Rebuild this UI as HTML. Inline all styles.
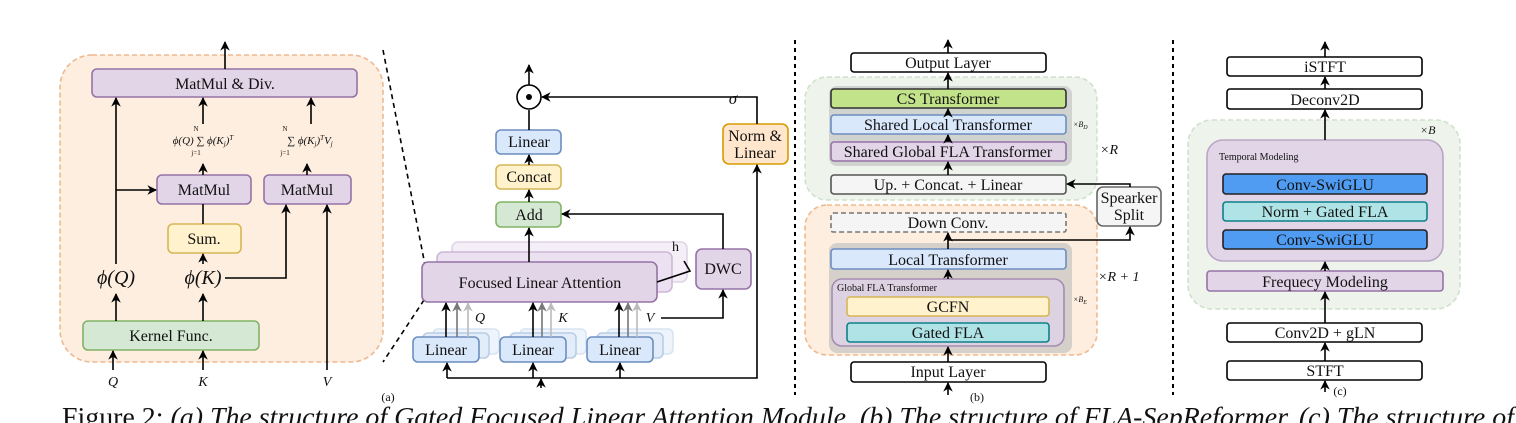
<!DOCTYPE html>
<html><head><meta charset="utf-8"><style>
html,body{margin:0;padding:0;background:#fff;}
svg{display:block;}
text{font-family:"Liberation Serif",serif;fill:#111;}
</style></head><body>
<svg width="1516" height="423" viewBox="0 0 1516 423" xmlns="http://www.w3.org/2000/svg">
<defs>
<marker id="a" viewBox="0 0 10 10" refX="9" refY="5" markerWidth="6" markerHeight="6" orient="auto"><path d="M0,0 L10,5 L0,10 L3,5z" fill="#000"/></marker>
<marker id="ag" viewBox="0 0 10 10" refX="9" refY="5" markerWidth="6" markerHeight="6" orient="auto"><path d="M0,0 L10,5 L0,10 L3,5z" fill="#777"/></marker>
<marker id="al" viewBox="0 0 10 10" refX="9" refY="5" markerWidth="6" markerHeight="6" orient="auto"><path d="M0,0 L10,5 L0,10 L3,5z" fill="#bbb"/></marker>
</defs>
<g stroke-width="1.6" fill="none" stroke="#000">
<rect x="60" y="55" width="323" height="307" rx="32" fill="#fdeee0" stroke="#eeb990" stroke-dasharray="5,3"/>
<rect x="92" y="69" width="265" height="28" rx="5" fill="#e1d5e7" stroke="#9673a6"/>
<rect x="157" y="175" width="94" height="29" rx="5" fill="#e1d5e7" stroke="#9673a6"/>
<rect x="264" y="175" width="87" height="29" rx="5" fill="#e1d5e7" stroke="#9673a6"/>
<rect x="168" y="224" width="73" height="29" rx="5" fill="#fff2cc" stroke="#d6b656"/>
<rect x="83" y="321" width="176" height="29" rx="5" fill="#d5e8d4" stroke="#82b366"/>
<line x1="225" y1="69" x2="225" y2="42" marker-end="url(#a)"/>
<line x1="116" y1="321" x2="116" y2="294" marker-end="url(#a)"/>
<line x1="116" y1="264" x2="116" y2="98" marker-end="url(#a)"/>
<line x1="116" y1="190" x2="156" y2="190" marker-end="url(#a)"/>
<line x1="203" y1="321" x2="203" y2="294" marker-end="url(#a)"/>
<line x1="203" y1="264" x2="203" y2="254" marker-end="url(#a)"/>
<line x1="203" y1="224" x2="203" y2="204"/>
<polyline points="225,278 286,278 286,205" marker-end="url(#a)"/>
<line x1="203" y1="175" x2="203" y2="164" marker-end="url(#a)"/>
<line x1="203" y1="124" x2="203" y2="98" marker-end="url(#a)"/>
<line x1="307" y1="175" x2="307" y2="164" marker-end="url(#a)"/>
<line x1="311" y1="124" x2="311" y2="98" marker-end="url(#a)"/>
<line x1="113" y1="370" x2="113" y2="351" marker-end="url(#a)"/>
<line x1="203" y1="370" x2="203" y2="351" marker-end="url(#a)"/>
<line x1="327" y1="370" x2="327" y2="205" marker-end="url(#a)"/>
<line x1="383" y1="50" x2="425" y2="265" stroke-dasharray="5,4"/>
<line x1="424" y1="300" x2="383" y2="362" stroke-dasharray="5,4"/>

<rect x="452" y="242" width="235" height="40" rx="6" fill="#f4eef7" stroke="#e0d4e8"/>
<rect x="437" y="252" width="235" height="40" rx="6" fill="#ebe1f0" stroke="#cdb8d6"/>
<rect x="422" y="262" width="235" height="40" rx="6" fill="#e1d5e7" stroke="#9673a6"/>
<polyline points="657,282 690,271 684,261"/>
<rect x="496" y="130" width="65" height="24" rx="5" fill="#dae8fc" stroke="#6c8ebf"/>
<rect x="496" y="165" width="65" height="24" rx="5" fill="#fff2cc" stroke="#d6b656"/>
<rect x="496" y="202" width="65" height="25" rx="5" fill="#d5e8d4" stroke="#82b366"/>
<rect x="696" y="249" width="55" height="40" rx="6" fill="#e1d5e7" stroke="#9673a6"/>
<rect x="723" y="124" width="65" height="40" rx="6" fill="#ffe6cc" stroke="#d79b00"/>
<g fill="#eef4fc" stroke="#d8e4f2">
<rect x="433" y="329" width="66" height="25" rx="5"/><rect x="520" y="329" width="66" height="25" rx="5"/><rect x="607" y="329" width="66" height="25" rx="5"/></g>
<g fill="#e3edfa" stroke="#b8cde6">
<rect x="423" y="333" width="66" height="25" rx="5"/><rect x="510" y="333" width="66" height="25" rx="5"/><rect x="597" y="333" width="66" height="25" rx="5"/></g>
<g fill="#dae8fc" stroke="#6c8ebf">
<rect x="413" y="337" width="66" height="25" rx="5"/><rect x="500" y="337" width="66" height="25" rx="5"/><rect x="587" y="337" width="66" height="25" rx="5"/></g>
<line x1="446" y1="337" x2="446" y2="303" marker-end="url(#a)"/>
<line x1="457" y1="337" x2="457" y2="303" stroke="#777" marker-end="url(#ag)"/>
<line x1="468" y1="337" x2="468" y2="303" stroke="#bbb" marker-end="url(#al)"/>
<line x1="533" y1="337" x2="533" y2="303" marker-end="url(#a)"/>
<line x1="542" y1="337" x2="542" y2="303" stroke="#777" marker-end="url(#ag)"/>
<line x1="551" y1="337" x2="551" y2="303" stroke="#bbb" marker-end="url(#al)"/>
<line x1="619" y1="337" x2="619" y2="303" marker-end="url(#a)"/>
<line x1="628" y1="337" x2="628" y2="303" stroke="#777" marker-end="url(#ag)"/>
<line x1="637" y1="337" x2="637" y2="303" stroke="#bbb" marker-end="url(#al)"/>
<polyline points="661,318 723,318 723,290" marker-end="url(#a)"/>
<polyline points="723,249 723,214 562,214" marker-end="url(#a)"/>
<line x1="529" y1="262" x2="529" y2="228" marker-end="url(#a)"/>
<line x1="529" y1="202" x2="529" y2="190" marker-end="url(#a)"/>
<line x1="529" y1="165" x2="529" y2="155" marker-end="url(#a)"/>
<line x1="529" y1="130" x2="529" y2="110"/>
<polyline points="447,378 757,378 757,165" marker-end="url(#a)"/>
<line x1="447" y1="378" x2="447" y2="363" marker-end="url(#a)"/>
<line x1="533" y1="378" x2="533" y2="363" marker-end="url(#a)"/>
<line x1="620" y1="378" x2="620" y2="363" marker-end="url(#a)"/>
<line x1="541" y1="388" x2="541" y2="379" marker-end="url(#a)"/>
<circle cx="529" cy="97" r="12" fill="#fff"/>
<circle cx="529" cy="97" r="3" fill="#000" stroke="none"/>
<line x1="529" y1="85" x2="529" y2="65" marker-end="url(#a)"/>
<polyline points="757,124 757,97 542,97" marker-end="url(#a)"/>
<line x1="795" y1="40" x2="795" y2="395" stroke-dasharray="4,4" stroke-width="2"/>

<rect x="805" y="77" width="292" height="123" rx="22" fill="#eef4ec" stroke="#cfe1cc" stroke-dasharray="5,3"/>
<rect x="805" y="205" width="292" height="150" rx="22" fill="#fdeee0" stroke="#eeb990" stroke-dasharray="5,3"/>
<rect x="829" y="86" width="243" height="80" rx="8" fill="#bdbdbd" stroke="none" opacity="0.6"/>
<rect x="829" y="243" width="243" height="110" rx="8" fill="#bdbdbd" stroke="none" opacity="0.6"/>
<rect x="851" y="53" width="195" height="19" rx="3" fill="#fff"/>
<rect x="831" y="89" width="235" height="19" rx="3" fill="#c3e38a" stroke="#333"/>
<rect x="831" y="115" width="235" height="19" rx="3" fill="#dae8fc" stroke="#6c8ebf"/>
<rect x="831" y="142" width="235" height="19" rx="3" fill="#e1d5e7" stroke="#9673a6"/>
<rect x="831" y="175" width="235" height="19" rx="3" fill="#f5f5f5" stroke="#555"/>
<rect x="1097" y="187" width="64" height="39" rx="6" fill="#f5f5f5" stroke="#666"/>
<rect x="831" y="213" width="235" height="19" rx="2" fill="#f5f5f5" stroke="#777" stroke-dasharray="5,3"/>
<rect x="831" y="249" width="235" height="20" rx="3" fill="#dae8fc" stroke="#6c8ebf"/>
<rect x="832" y="279" width="232" height="67" rx="10" fill="#ddd2e2" stroke="#a58db2"/>
<rect x="847" y="297" width="202" height="19" rx="3" fill="#fff2cc" stroke="#d6b656"/>
<rect x="847" y="323" width="202" height="19" rx="3" fill="#b0e3e6" stroke="#0e8088"/>
<rect x="851" y="362" width="195" height="20" rx="3" fill="#fff"/>
<line x1="948" y1="53" x2="948" y2="40" marker-end="url(#a)"/>
<line x1="948" y1="89" x2="948" y2="73" marker-end="url(#a)"/>
<line x1="948" y1="115" x2="948" y2="109" marker-end="url(#a)"/>
<line x1="948" y1="142" x2="948" y2="135" marker-end="url(#a)"/>
<line x1="948" y1="175" x2="948" y2="162" marker-end="url(#a)"/>
<polyline points="1130,187 1130,184 1067,184" marker-end="url(#a)"/>
<polyline points="948,249 948,240 1130,240 1130,227" marker-end="url(#a)"/>
<line x1="948" y1="240" x2="948" y2="233" marker-end="url(#a)"/>
<line x1="948" y1="279" x2="948" y2="270" marker-end="url(#a)"/>
<line x1="948" y1="362" x2="948" y2="347" marker-end="url(#a)"/>
<line x1="948" y1="395" x2="948" y2="383" marker-end="url(#a)"/>
<line x1="1173" y1="40" x2="1173" y2="395" stroke-dasharray="4,4" stroke-width="2"/>

<rect x="1188" y="120" width="272" height="189" rx="24" fill="#eef4ec" stroke="#cfe1cc" stroke-dasharray="5,3"/>
<rect x="1207" y="140" width="236" height="121" rx="16" fill="#e1d5e7" stroke="#b8a6c4"/>
<rect x="1227" y="57" width="195" height="19" rx="3" fill="#fff"/>
<rect x="1227" y="89" width="195" height="20" rx="3" fill="#fff"/>
<rect x="1223" y="174" width="204" height="20" rx="3" fill="#4f9cf2" stroke="#222"/>
<rect x="1223" y="202" width="204" height="19" rx="3" fill="#b0e3e6" stroke="#0e8088"/>
<rect x="1223" y="230" width="204" height="19" rx="3" fill="#4f9cf2" stroke="#222"/>
<rect x="1207" y="271" width="236" height="20" rx="3" fill="#e1d5e7" stroke="#9673a6"/>
<rect x="1227" y="323" width="195" height="19" rx="3" fill="#fff"/>
<rect x="1227" y="361" width="195" height="19" rx="3" fill="#fff"/>
<line x1="1325" y1="57" x2="1325" y2="42" marker-end="url(#a)"/>
<line x1="1325" y1="89" x2="1325" y2="77" marker-end="url(#a)"/>
<line x1="1325" y1="140" x2="1325" y2="110" marker-end="url(#a)"/>
<line x1="1325" y1="271" x2="1325" y2="262" marker-end="url(#a)"/>
<line x1="1325" y1="323" x2="1325" y2="292" marker-end="url(#a)"/>
<line x1="1325" y1="361" x2="1325" y2="343" marker-end="url(#a)"/>
<line x1="1325" y1="392" x2="1325" y2="381" marker-end="url(#a)"/>
</g>

<g font-size="16" text-anchor="middle">
<text x="225" y="89">MatMul &amp; Div.</text>
<text x="204" y="195">MatMul</text>
<text x="307" y="195">MatMul</text>
<text x="204" y="244">Sum.</text>
<text x="171" y="341">Kernel Func.</text>
<text x="529" y="147">Linear</text>
<text x="529" y="182">Concat</text>
<text x="529" y="220">Add</text>
<text x="540" y="288">Focused Linear Attention</text>
<text x="723" y="274">DWC</text>
<text x="755" y="141">Norm &amp;</text>
<text x="755" y="158">Linear</text>
<text x="446" y="355">Linear</text>
<text x="533" y="355">Linear</text>
<text x="620" y="355">Linear</text>
<text x="948" y="68">Output Layer</text>
<text x="948" y="104">CS Transformer</text>
<text x="948" y="130">Shared Local Transformer</text>
<text x="948" y="157">Shared Global FLA Transformer</text>
<text x="948" y="190" fill="#444">Up. + Concat. + Linear</text>
<text x="1129" y="203">Spearker</text>
<text x="1129" y="220">Split</text>
<text x="948" y="228" fill="#444">Down Conv.</text>
<text x="948" y="265">Local Transformer</text>
<text x="948" y="312">GCFN</text>
<text x="948" y="338">Gated FLA</text>
<text x="948" y="377">Input Layer</text>
<text x="1325" y="72">iSTFT</text>
<text x="1325" y="105">Deconv2D</text>
<text x="1325" y="190">Conv-SwiGLU</text>
<text x="1325" y="217">Norm + Gated FLA</text>
<text x="1325" y="245">Conv-SwiGLU</text>
<text x="1325" y="287">Frequecy Modeling</text>
<text x="1325" y="338">Conv2D + gLN</text>
<text x="1325" y="376">STFT</text>
</g>
<g font-size="10">
<text x="837" y="291">Global FLA Transformer</text>
<text x="1219" y="160">Temporal Modeling</text>
<text x="1073" y="127" font-style="italic" font-size="8">×B<tspan font-size="6" dy="2">D</tspan></text>
<text x="1073" y="302" font-style="italic" font-size="8">×B<tspan font-size="6" dy="2">E</tspan></text>
</g>
<g font-style="italic">
<text x="1100" y="154" font-size="14">×R</text>
<text x="1098" y="281" font-size="14">×R + 1</text>
<text x="1420" y="134" font-size="12">×B</text>
<text x="116" y="284" font-size="20" text-anchor="middle">ϕ(Q)</text>
<text x="203" y="284" font-size="20" text-anchor="middle">ϕ(K)</text>
<text x="113" y="386" font-size="14" text-anchor="middle">Q</text>
<text x="203" y="386" font-size="14" text-anchor="middle">K</text>
<text x="327" y="386" font-size="14" text-anchor="middle">V</text>
<text x="480" y="322" font-size="14" text-anchor="middle">Q</text>
<text x="563" y="322" font-size="14" text-anchor="middle">K</text>
<text x="650" y="322" font-size="14" text-anchor="middle">V</text>
<text x="733" y="104" font-size="17" text-anchor="middle">σ</text>
<text x="203" y="144" font-size="11" text-anchor="middle">ϕ(Q) ∑ ϕ(K<tspan font-size="7" dy="2">j</tspan><tspan dy="-2">)</tspan><tspan font-size="7" dy="-4">T</tspan></text>
<text x="310" y="144" font-size="11" text-anchor="middle">∑ ϕ(K<tspan font-size="7" dy="2">j</tspan><tspan dy="-2">)</tspan><tspan font-size="7" dy="-4">T</tspan><tspan dy="4">V</tspan><tspan font-size="7" dy="2">j</tspan></text>
</g>
<g font-size="7" text-anchor="middle">
<text x="196" y="131">N</text><text x="196" y="155">j=1</text>
<text x="285" y="131">N</text><text x="285" y="155">j=1</text>
</g>
<text x="672" y="251" font-size="14">h</text>
<g font-size="12" text-anchor="middle">
<text x="388" y="401">(a)</text>
<text x="977" y="401">(b)</text>
<text x="1340" y="395">(c)</text>
</g>
<text x="62" y="426" font-size="27" textLength="1452" lengthAdjust="spacingAndGlyphs">Figure 2: <tspan font-style="italic">(a) The structure of Gated Focused Linear Attention Module. (b) The structure of FLA-SepReformer. (c) The structure of</tspan></text>
</svg>
</body></html>
